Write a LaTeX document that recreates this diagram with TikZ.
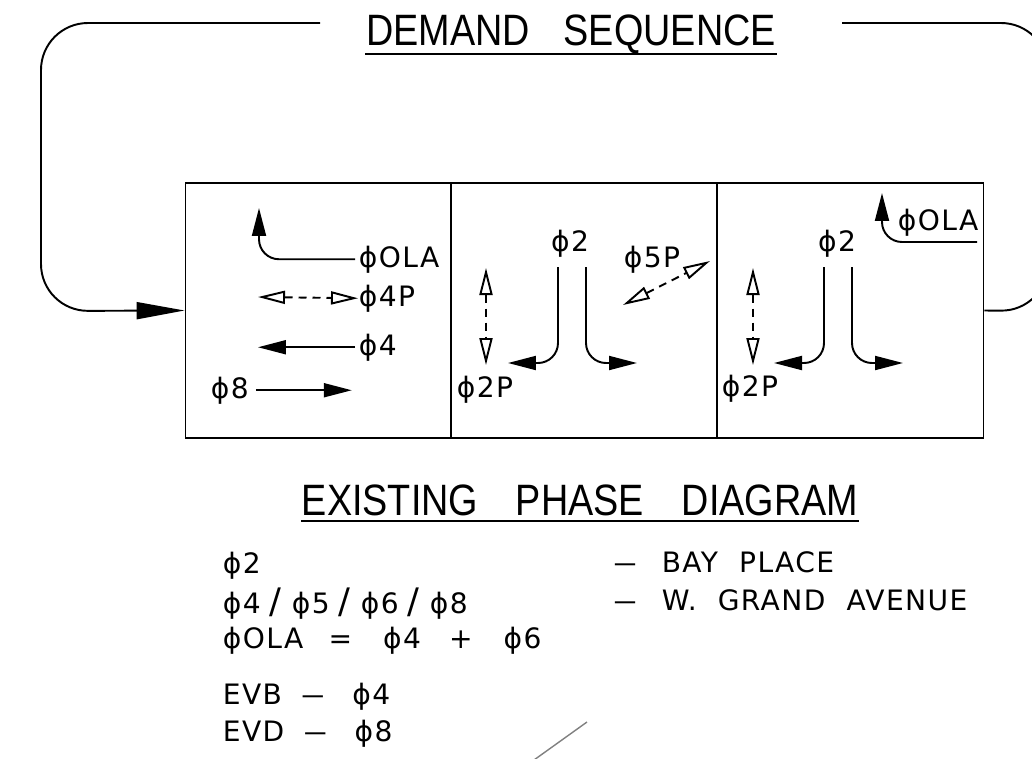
\documentclass[tikz,border=0pt]{standalone}
\usepackage{fontspec}
\setmainfont{Liberation Sans}
\newfontfamily\lblfont{DejaVu Sans}[LetterSpace=5]
\newcommand{\sep}{\kern5pt{\fontsize{20}{20}\selectfont/}\kern6pt}
\newcommand{\dash}{\scalebox{0.8}[1]{—}}
\usetikzlibrary{arrows.meta}

\begin{document}
\begin{tikzpicture}[x=0.02cm, y=-0.02cm, line width=1.1pt,
		phase/.style={draw, minimum width=5.32cm, minimum height=5.1cm, inner sep=0pt},
		lbl/.style={font=\lblfont\fontsize{16}{18}\selectfont, inner sep=0pt, anchor=base west},
		ttl/.style={font=\fontsize{25}{28}\selectfont, inner sep=0pt, anchor=base, xscale=0.86, transform shape},
		loop/.style={-{Triangle[length=0.96cm, width=0.34cm]}, rounded corners=0.94cm},
		mv/.style={-{Triangle[length=0.56cm, width=0.28cm]}},
		ped/.style={{Triangle[open, length=0.54cm, width=0.26cm]}-{Triangle[open, length=0.54cm, width=0.26cm]}, dash pattern=on 0.16cm off 0.12cm}]
		\useasboundingbox (0,0) rectangle (1032,758);
		\clip (0,0) rectangle (1032,758);

		% phase boxes
		\node[phase] (p1) at (318.5,310.5) {};
		\node[phase] (p2) at (584,310.5) {};
		\node[phase] (p3) at (850.5,310.5) {};

		% demand sequence loop
		\node[ttl] (dmd) at (571,45) {DEMAND\hspace{0.9em}SEQUENCE};
		\draw ([yshift=-5pt]dmd.base west) -- ([yshift=-5pt]dmd.base east);
		\coordinate (gapL) at (320,23);
		\coordinate (gapR) at (842,23);
		\draw[loop] (gapL) -- (41,23) -- (41,311) -- (p1.west);
		\draw[rounded corners=0.94cm] (gapR) -- (1048,23) -- (1048,311) -- (p3.east);

		% phase 1
		\node[lbl] (ola1) at (358,267) {ϕOLA};
		\node[lbl] (f4p) at (358,306) {ϕ4P};
		\node[lbl] (f4) at (358,355) {ϕ4};
		\node[lbl] (f8) at (210,398) {ϕ8};
		\draw[mv, rounded corners=0.4cm, shorten <=0.06cm] (ola1.west) -| (259,208);
		\draw[ped] (258,297) -- (f4p.west);
		\draw[mv, shorten <=0.06cm] (f4.west) -- ++(-100,0);
		\draw[mv, shorten <=0.12cm] (f8.east) -- ++(102,0);

		% phase 2
		\node[lbl, anchor=base] (f2a) at (570,251) {ϕ2};
		\node[lbl] (f2pa) at (456,397) {ϕ2P};
		\node[lbl] (f5p) at (623,267) {ϕ5P};
		\coordinate (l2a) at (558,267);
		\coordinate (r2a) at (586,267);
		\draw[mv, rounded corners=0.4cm] (l2a) |- (508,363);
		\draw[mv, rounded corners=0.4cm] (r2a) |- (637,363);
		\draw[ped] (486,268) -- (486,365);
		\draw[ped] (623,305) -- (710,261);

		% phase 3
		\node[lbl, anchor=base] (f2b) at (837,251) {ϕ2};
		\node[lbl] (f2pb) at (721,396) {ϕ2P};
		\node[lbl] (ola3) at (897,230) {ϕOLA};
		\coordinate (l3a) at (824,267);
		\coordinate (r3a) at (852,267);
		\draw[mv, rounded corners=0.4cm] (l3a) |- (774,363);
		\draw[mv, rounded corners=0.4cm] (r3a) |- (903,363);
		\draw[ped] (753,268) -- (753,365);
		\draw[mv, rounded corners=0.4cm] (977,242) -| (882,193);

		% legend
		\node[ttl] (eph) at (580,515) {EXISTING\hspace{1em}PHASE\hspace{1em}DIAGRAM};
		\draw ([yshift=-3.5pt]eph.base west) -- ([yshift=-3.5pt]eph.base east);
		\node[lbl] (k1) at (222,573) {ϕ2};
		\node[lbl] (k2) at (222,613) {ϕ4\sep ϕ5\sep ϕ6\sep ϕ8};
		\node[lbl] (k3) at (222,648) {ϕOLA\hspace{0.9em}=\hspace{1.1em}ϕ4\hspace{1em}+\hspace{1.1em}ϕ6};
		\node[lbl] (k4) at (222,704) {EVB\hspace{0.7em}\dash\hspace{1em}ϕ4};
		\node[lbl] (k5) at (222,741) {EVD\hspace{0.7em}\dash\hspace{1em}ϕ8};
		\node[lbl] (k6) at (613,572) {\dash\hspace{0.9em}BAY\hspace{0.75em}PLACE};
		\node[lbl] (k7) at (613,610) {\dash\hspace{0.9em}W.\hspace{0.75em}GRAND\hspace{0.75em}AVENUE};

		\draw[gray, line width=0.8pt] (587,722) -- (520,770);
	\end{tikzpicture}
\end{document}
